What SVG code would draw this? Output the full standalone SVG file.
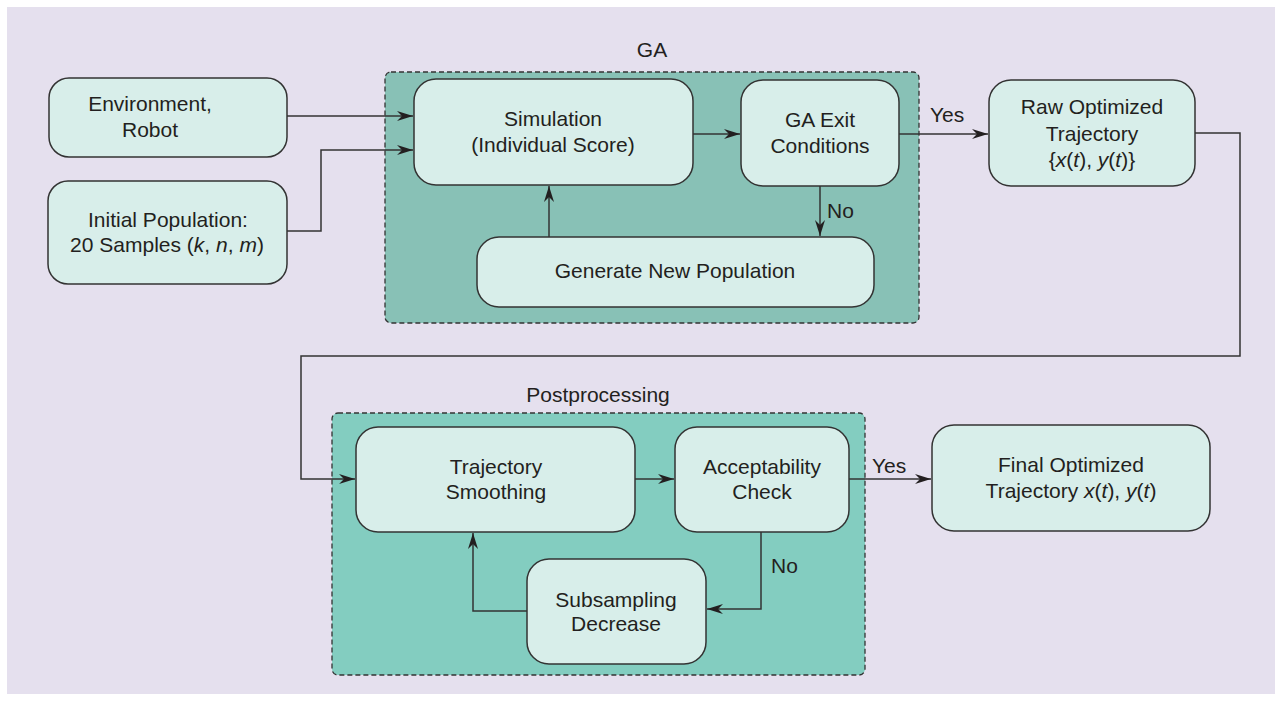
<svg xmlns="http://www.w3.org/2000/svg" width="1282" height="701" viewBox="0 0 1282 701">
<style>
.node{fill:#D8EEEA;stroke:#333;stroke-width:1.5}
.t{font-family:"Liberation Sans",Arial,sans-serif;font-size:21px;fill:#231F20;text-anchor:middle}
.l{font-family:"Liberation Sans",Arial,sans-serif;font-size:21px;fill:#231F20}
.c{fill:none;stroke:#333;stroke-width:1.5}
.grp{stroke:#333;stroke-width:1.3;stroke-dasharray:5,3}
</style>
<defs>
<marker id="ah" viewBox="0 0 16 10" refX="16" refY="5" markerWidth="16" markerHeight="10" markerUnits="userSpaceOnUse" orient="auto">
<path d="M0,0 L16,5 L0,10 L5,5 z" fill="#231F20"/>
</marker>
</defs>
<rect x="0" y="0" width="1282" height="701" fill="#ffffff"/>
<rect x="7" y="7" width="1268" height="687" fill="#E5E0EE"/>
<g id="ga-group">
<rect class="grp" x="385" y="72" width="534" height="251" rx="6" fill="#88C1B6"/>
<text class="t" x="652" y="57">GA</text>
</g>
<g id="post-group">
<rect class="grp" x="332" y="413" width="533" height="262" rx="6" fill="#83CDC0"/>
<text class="t" x="598" y="402">Postprocessing</text>
</g>
<g id="connectors">
<path class="c" d="M287,116 H413" marker-end="url(#ah)"/>
<path class="c" d="M287,231 H321 V150 H413" marker-end="url(#ah)"/>
<path class="c" d="M693,134 H740" marker-end="url(#ah)"/>
<path class="c" d="M899,134 H988" marker-end="url(#ah)"/>
<path class="c" d="M820,186 V236" marker-end="url(#ah)"/>
<path class="c" d="M549,237 V186" marker-end="url(#ah)"/>
<path class="c" d="M1195,133 H1240 V356 H301 V479 H355" marker-end="url(#ah)"/>
<path class="c" d="M635,479 H674" marker-end="url(#ah)"/>
<path class="c" d="M849,479 H931" marker-end="url(#ah)"/>
<path class="c" d="M761,532 V609 H707" marker-end="url(#ah)"/>
<path class="c" d="M527,611 H473 V533" marker-end="url(#ah)"/>
<text class="l" x="930" y="122">Yes</text>
<text class="l" x="827" y="218">No</text>
<text class="l" x="872" y="473">Yes</text>
<text class="l" x="771" y="573">No</text>
</g>
<g id="env">
<rect class="node" x="49" y="78" width="238" height="79" rx="20"/>
<text class="t" x="150" y="111">Environment,</text>
<text class="t" x="150" y="137">Robot</text>
</g>
<g id="init">
<rect class="node" x="48" y="181" width="239" height="103" rx="20"/>
<text class="t" x="168" y="227">Initial Population:</text>
<text class="t" x="167" y="252">20 Samples (<tspan font-style="italic">k</tspan>, <tspan font-style="italic">n</tspan>, <tspan font-style="italic">m</tspan>)</text>
</g>
<g id="sim">
<rect class="node" x="414" y="79" width="279" height="106" rx="22"/>
<text class="t" x="553" y="126">Simulation</text>
<text class="t" x="553" y="152">(Individual Score)</text>
</g>
<g id="exit">
<rect class="node" x="741" y="80" width="158" height="106" rx="22"/>
<text class="t" x="820" y="127">GA Exit</text>
<text class="t" x="820" y="153">Conditions</text>
</g>
<g id="gen">
<rect class="node" x="477" y="237" width="397" height="70" rx="22"/>
<text class="t" x="675" y="278">Generate New Population</text>
</g>
<g id="raw">
<rect class="node" x="989" y="80" width="206" height="106" rx="22"/>
<text class="t" x="1092" y="114">Raw Optimized</text>
<text class="t" x="1092" y="141">Trajectory</text>
<text class="t" x="1092" y="167">{<tspan font-style="italic">x</tspan>(<tspan font-style="italic">t</tspan>), <tspan font-style="italic">y</tspan>(<tspan font-style="italic">t</tspan>)}</text>
</g>
<g id="smooth">
<rect class="node" x="356" y="427" width="279" height="105" rx="22"/>
<text class="t" x="496" y="474">Trajectory</text>
<text class="t" x="496" y="499">Smoothing</text>
</g>
<g id="accept">
<rect class="node" x="675" y="427" width="174" height="105" rx="22"/>
<text class="t" x="762" y="474">Acceptability</text>
<text class="t" x="762" y="499">Check</text>
</g>
<g id="subsample">
<rect class="node" x="527" y="559" width="179" height="105" rx="22"/>
<text class="t" x="616" y="607">Subsampling</text>
<text class="t" x="616" y="631">Decrease</text>
</g>
<g id="final">
<rect class="node" x="932" y="425" width="278" height="106" rx="22"/>
<text class="t" x="1071" y="472">Final Optimized</text>
<text class="t" x="1071" y="498">Trajectory <tspan font-style="italic">x</tspan>(<tspan font-style="italic">t</tspan>), <tspan font-style="italic">y</tspan>(<tspan font-style="italic">t</tspan>)</text>
</g>
</svg>
